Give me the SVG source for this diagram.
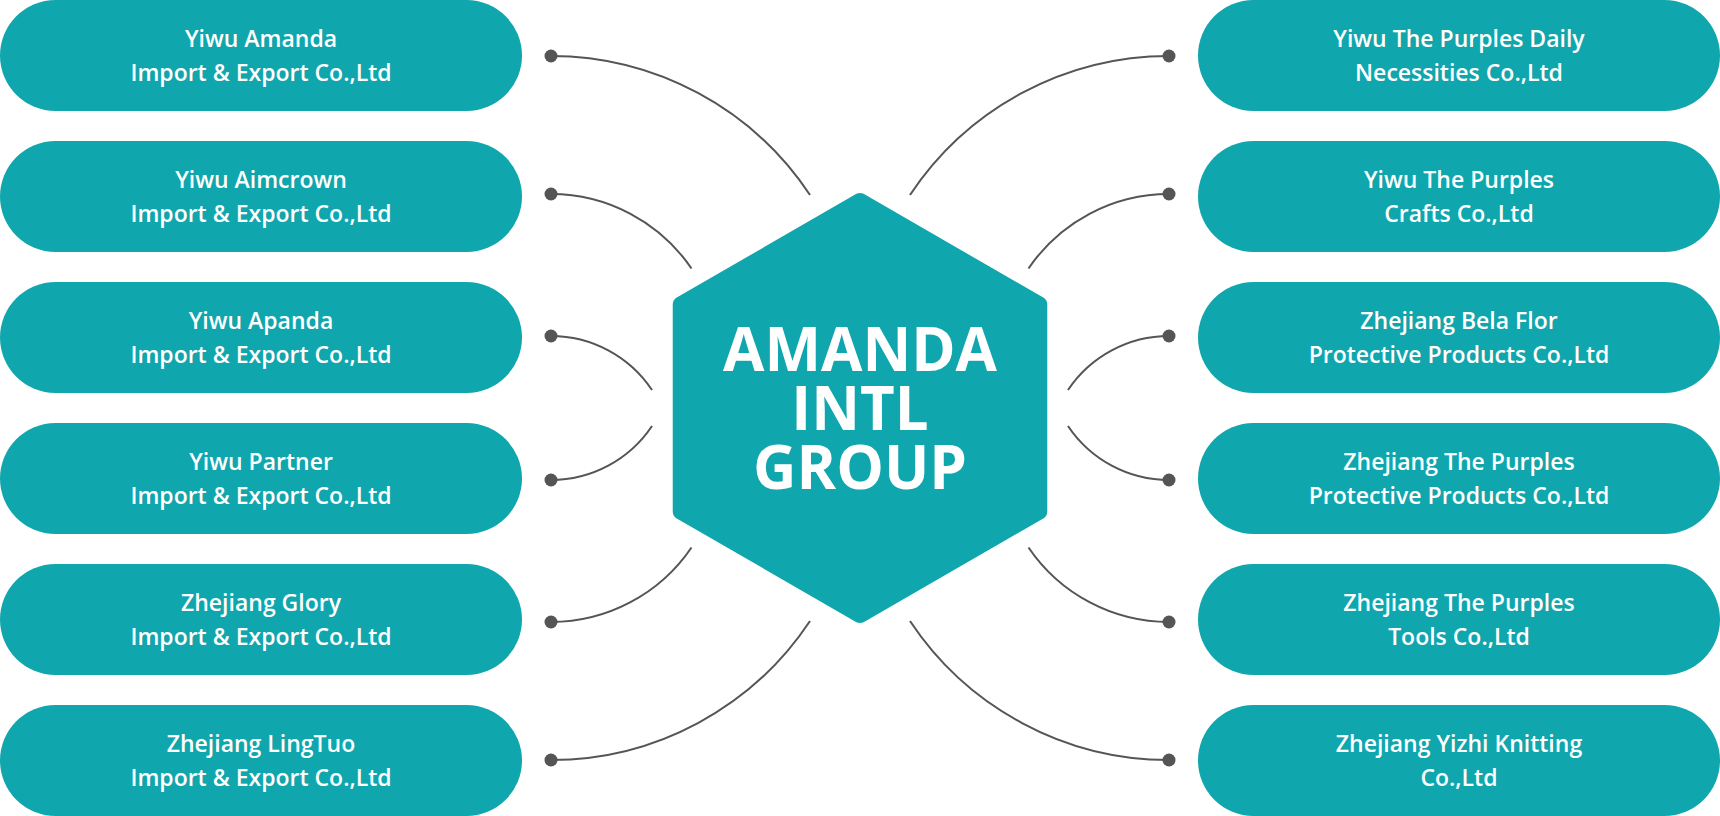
<svg xmlns="http://www.w3.org/2000/svg" width="1720" height="816" viewBox="0 0 1720 816">
<style>
.pill{fill:#10a6ad}
.pt{font-family:"Open Sans","Liberation Sans",sans-serif;font-weight:600;font-size:23px;fill:#ffffff;text-anchor:middle}
.ht{font-family:"Open Sans","Liberation Sans",sans-serif;font-weight:700;font-size:60px;fill:#ffffff;text-anchor:middle}
.con path{fill:none;stroke:#555555;stroke-width:2}
.con circle{fill:#555555}
</style>
<rect width="1720" height="816" fill="#ffffff"/>
<g id="center">
<polygon points="860,201 1039.27,304.5 1039.27,511.5 860,615 680.73,511.5 680.73,304.5" fill="#10a6ad" stroke="#10a6ad" stroke-width="16" stroke-linejoin="round"/>
<text class="ht"><tspan x="860" y="371">AMANDA</tspan><tspan x="860" y="430">INTL</tspan><tspan x="860" y="489">GROUP</tspan></text>
</g>
<g id="L1"><rect class="pill" x="0" y="0" width="522" height="111" rx="55.5"/><text class="pt" x="261" y="46.5">Yiwu Amanda</text><text class="pt" x="261" y="81">Import &amp; Export Co.,Ltd</text></g>
<g id="L2"><rect class="pill" x="0" y="141" width="522" height="111" rx="55.5"/><text class="pt" x="261" y="187.5">Yiwu Aimcrown</text><text class="pt" x="261" y="222">Import &amp; Export Co.,Ltd</text></g>
<g id="L3"><rect class="pill" x="0" y="282" width="522" height="111" rx="55.5"/><text class="pt" x="261" y="328.5">Yiwu Apanda</text><text class="pt" x="261" y="363">Import &amp; Export Co.,Ltd</text></g>
<g id="L4"><rect class="pill" x="0" y="423" width="522" height="111" rx="55.5"/><text class="pt" x="261" y="469.5">Yiwu Partner</text><text class="pt" x="261" y="504">Import &amp; Export Co.,Ltd</text></g>
<g id="L5"><rect class="pill" x="0" y="564" width="522" height="111" rx="55.5"/><text class="pt" x="261" y="610.5">Zhejiang Glory</text><text class="pt" x="261" y="645">Import &amp; Export Co.,Ltd</text></g>
<g id="L6"><rect class="pill" x="0" y="705" width="522" height="111" rx="55.5"/><text class="pt" x="261" y="751.5">Zhejiang LingTuo</text><text class="pt" x="261" y="786">Import &amp; Export Co.,Ltd</text></g>
<g id="R1"><rect class="pill" x="1198" y="0" width="522" height="111" rx="55.5"/><text class="pt" x="1459" y="46.5">Yiwu The Purples Daily</text><text class="pt" x="1459" y="81">Necessities Co.,Ltd</text></g>
<g id="R2"><rect class="pill" x="1198" y="141" width="522" height="111" rx="55.5"/><text class="pt" x="1459" y="187.5">Yiwu The Purples</text><text class="pt" x="1459" y="222">Crafts Co.,Ltd</text></g>
<g id="R3"><rect class="pill" x="1198" y="282" width="522" height="111" rx="55.5"/><text class="pt" x="1459" y="328.5">Zhejiang Bela Flor</text><text class="pt" x="1459" y="363">Protective Products Co.,Ltd</text></g>
<g id="R4"><rect class="pill" x="1198" y="423" width="522" height="111" rx="55.5"/><text class="pt" x="1459" y="469.5">Zhejiang The Purples</text><text class="pt" x="1459" y="504">Protective Products Co.,Ltd</text></g>
<g id="R5"><rect class="pill" x="1198" y="564" width="522" height="111" rx="55.5"/><text class="pt" x="1459" y="610.5">Zhejiang The Purples</text><text class="pt" x="1459" y="645">Tools Co.,Ltd</text></g>
<g id="R6"><rect class="pill" x="1198" y="705" width="522" height="111" rx="55.5"/><text class="pt" x="1459" y="751.5">Zhejiang Yizhi Knitting</text><text class="pt" x="1459" y="786">Co.,Ltd</text></g>
<g id="connectors" class="con">
<path d="M551 56 A311 311 0 0 1 810 195"/>
<path d="M551 194 A170 170 0 0 1 691.5 268.5"/>
<path d="M551 336 A121.5 121.5 0 0 1 652 390"/>
<path d="M551 480 A121.5 121.5 0 0 0 652 426"/>
<path d="M551 622 A170 170 0 0 0 691.5 547.5"/>
<path d="M551 760 A311 311 0 0 0 810 621"/>
<path d="M1169 56 A311 311 0 0 0 910 195"/>
<path d="M1169 194 A170 170 0 0 0 1028.5 268.5"/>
<path d="M1169 336 A121.5 121.5 0 0 0 1068 390"/>
<path d="M1169 480 A121.5 121.5 0 0 1 1068 426"/>
<path d="M1169 622 A170 170 0 0 1 1028.5 547.5"/>
<path d="M1169 760 A311 311 0 0 1 910 621"/>
<circle cx="551" cy="56" r="6.5"/>
<circle cx="551" cy="194" r="6.5"/>
<circle cx="551" cy="336" r="6.5"/>
<circle cx="551" cy="480" r="6.5"/>
<circle cx="551" cy="622" r="6.5"/>
<circle cx="551" cy="760" r="6.5"/>
<circle cx="1169" cy="56" r="6.5"/>
<circle cx="1169" cy="194" r="6.5"/>
<circle cx="1169" cy="336" r="6.5"/>
<circle cx="1169" cy="480" r="6.5"/>
<circle cx="1169" cy="622" r="6.5"/>
<circle cx="1169" cy="760" r="6.5"/>
</g>
</svg>
